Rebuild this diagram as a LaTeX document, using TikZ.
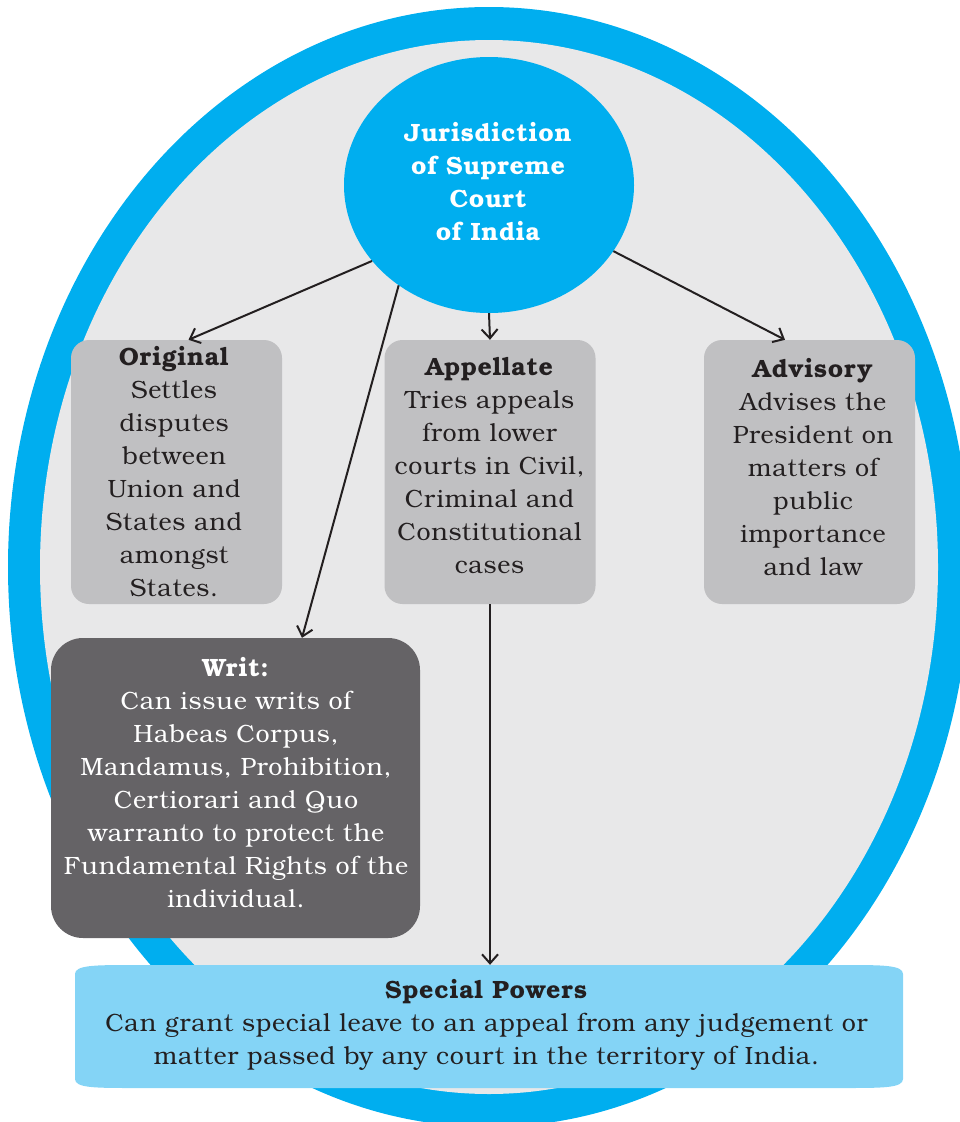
\documentclass[tikz,border=0pt]{standalone}
\usepackage{fontspec}
\setmainfont{TeX Gyre Bonum}[LetterSpace=3]
\usetikzlibrary{arrows.meta,shapes.geometric,calc}
\definecolor{ringblue}{HTML}{00AEEF}
\definecolor{innergrey}{HTML}{E8E8E9}
\definecolor{boxgrey}{HTML}{C0C0C2}
\definecolor{writgrey}{HTML}{656366}
\definecolor{bannerblue}{HTML}{84D4F6}
\definecolor{inkblack}{HTML}{231F20}
\tikzset{
  bodyfont/.style={font=\fontsize{25}{33}\selectfont},
  hub/.style={ellipse, fill=ringblue, minimum width=290pt, minimum height=256pt, inner sep=0pt},
  lightbox/.style={rectangle, rounded corners=18pt, fill=boxgrey, minimum width=211pt, minimum height=264pt, inner sep=0pt},
  darkbox/.style={rectangle, rounded corners=32pt, fill=writgrey, minimum width=369pt, minimum height=300pt, inner sep=0pt},
  bodytext/.style={bodyfont, align=center, inner sep=0pt, text=inkblack},
  conn/.style={draw=inkblack, line width=2pt, -{Straight Barb[length=9pt,width=16pt,line width=2pt]}}
}
\begin{document}
\begin{tikzpicture}[x=1pt,y=-1pt]
\useasboundingbox (0,0) rectangle (960,1122);
\begin{scope}
  \clip (0,0) rectangle (960,1122);
  \fill[ringblue] (489,567) ellipse [x radius=481pt, y radius=560pt];
  \fill[innergrey] (489,567) ellipse [x radius=449pt, y radius=527pt];
\end{scope}

% hub
\node[hub] (jur) at (489,185) {};
\node[bodytext, text=white, font=\fontsize{25}{33}\selectfont\bfseries] (jurtxt) at (488,181.5) {Jurisdiction\\of Supreme\\Court\\of India};

% boxes
\node[lightbox] (orig) at (176.5,472) {};
\node[lightbox] (app) at (490,472) {};
\node[lightbox] (adv) at (809.5,472) {};
\node[darkbox] (writ) at (235.5,788) {};

\node[bodytext] (origtxt) at (174,471.5) {\textbf{Original}\\Settles\\disputes\\between\\Union and\\States and\\amongst\\States.};
\node[bodytext] (apptxt) at (489.5,465.5) {\textbf{Appellate}\\Tries appeals\\from lower\\courts in Civil,\\Criminal and\\Constitutional\\cases};
\node[bodytext] (advtxt) at (813,467) {\textbf{Advisory}\\Advises the\\President on\\matters of\\public\\importance\\and law};
\node[bodytext, text=white] (writtxt) at (236,783) {\textbf{Writ:}\\Can issue writs of\\Habeas Corpus,\\Mandamus, Prohibition,\\Certiorari and Quo\\warranto to protect the\\Fundamental Rights of the\\individual.};

% banner
\node[minimum width=828pt, minimum height=123pt, inner sep=0pt] (sp) at (489,1026.5) {};
\fill[bannerblue] (75,1079) -- (75,974) .. controls (75,965) and (95,965) .. (135,965)
  -- (843,965) .. controls (883,965) and (903,965) .. (903,974)
  -- (903,1079) .. controls (903,1088) and (883,1088) .. (843,1088)
  -- (135,1088) .. controls (95,1088) and (75,1088) .. (75,1079) -- cycle;
\node[bodytext] (sptxt) at (486.5,1025) {\textbf{Special Powers}\\Can grant special leave to an appeal from any judgement or\\matter passed by any court in the territory of India.};

% connectors
\draw[conn] (jur.213.6) -- ([xshift=12pt]orig.north);
\draw[conn] (jur.228.6) -- ([xshift=66.5pt]writ.north);
\draw[conn] (jur.south) -- (app.north);
\draw[conn] (jur.332) -- ([xshift=-24.5pt]adv.north);
\draw[conn] (app.south) -- ([xshift=1pt]sp.north);
\end{tikzpicture}
\end{document}
